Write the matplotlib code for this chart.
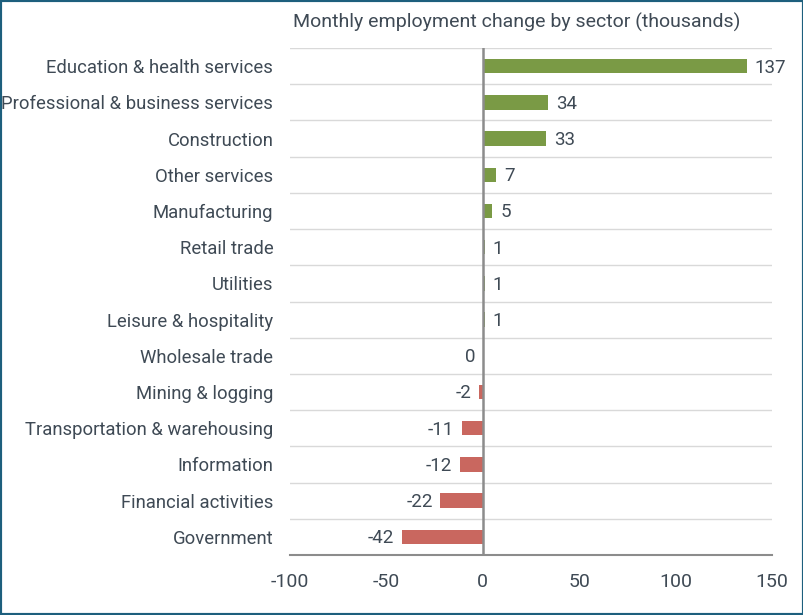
import matplotlib
matplotlib.use("Agg")
import matplotlib.pyplot as plt
from matplotlib.patches import Rectangle

sectors = ["Education & health services", "Professional & business services",
           "Construction", "Other services", "Manufacturing", "Retail trade",
           "Utilities", "Leisure & hospitality", "Wholesale trade",
           "Mining & logging", "Transportation & warehousing", "Information",
           "Financial activities", "Government"]
changes = [137, 34, 33, 7, 5, 1, 1, 1, 0, -2, -11, -12, -22, -42]
xticks = [-100, -50, 0, 50, 100, 150]

green = "#7a9a45"
red = "#c9675f"
txt = "#3f4a55"

plt.rcParams["font.family"] = ["Roboto", "DejaVu Sans"]

fig = plt.figure(figsize=(8.04, 6.15), dpi=100)
ax = fig.add_axes([290 / 804, 1 - 555 / 615, 482 / 804, 507 / 615])

n = len(sectors)
ys = list(range(n))
colors = [green if v > 0 else red for v in changes]
ax.barh(ys, changes, height=0.4, color=colors, zorder=3)

for y, v in zip(ys, changes):
    if v > 0:
        ax.text(v + 4, y + 0.04, str(v), va="center", ha="left", fontsize=13.5, color=txt)
    else:
        ax.text(v - 4, y + 0.04, str(v), va="center", ha="right", fontsize=13.5, color=txt)

ax.set_ylim(n - 0.5, -0.5)
ax.set_xlim(-100, 150)
ax.set_yticks(ys)
ax.set_yticklabels(sectors, fontsize=13.3, color=txt)
ax.set_xticks(xticks)
ax.set_xticklabels([str(t) for t in xticks], fontsize=14, color=txt)
ax.tick_params(length=0, pad=13)
ax.tick_params(axis="y", pad=12)

# separators between rows
for b in range(n):
    ax.axhline(b - 0.5, color="#d9d9d9", lw=1, zorder=1)
ax.axvline(0, color="#8c8c8c", lw=1.8, zorder=4)

for s in ["top", "right", "left"]:
    ax.spines[s].set_visible(False)
ax.spines["bottom"].set_color("#8c8c8c")
ax.spines["bottom"].set_linewidth(1.5)

fig.text(293 / 804, 1 - 22 / 615, "Monthly employment change by sector (thousands)",
         fontsize=14, color=txt, ha="left", va="center")

fig.patches.append(Rectangle((0, 0), 1, 1, transform=fig.transFigure, fill=False,
                             edgecolor="#1d5f7d", lw=3))

fig.savefig("out.png", dpi=100)
